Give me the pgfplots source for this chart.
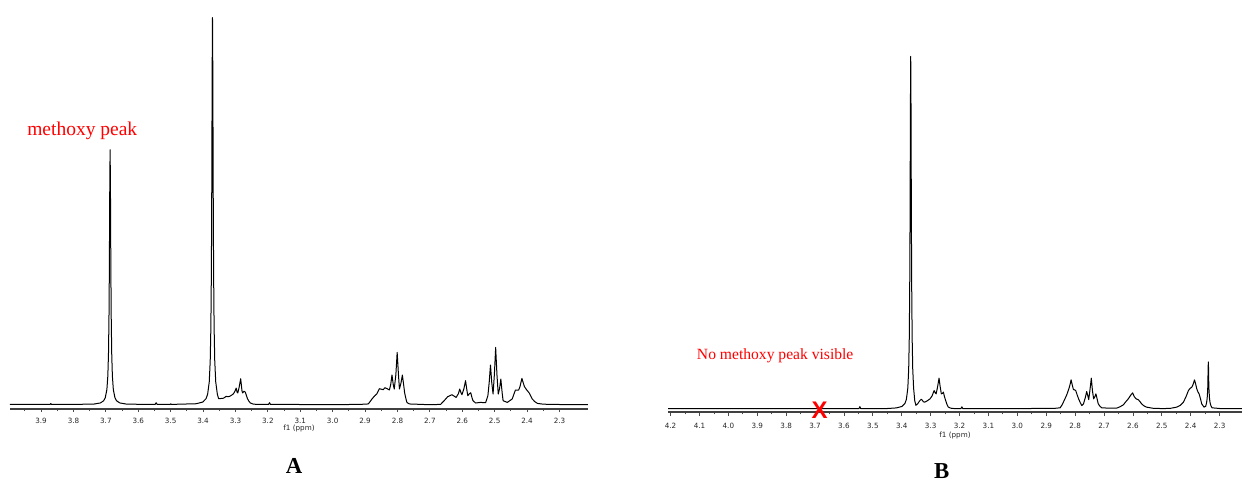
\documentclass[border=0pt]{standalone}
\usepackage{fontspec}
\setmainfont{Liberation Serif}
\newfontfamily\djv{DejaVu Sans}
\newfontfamily\lsans{Liberation Sans}
\usepackage{pgfplots}
\pgfplotsset{compat=1.18}
\newcommand\tickfnt{\djv\fontsize{3.6pt}{4.2pt}\selectfont}
\pgfplotsset{
  nmr/.style={
    scale only axis, anchor=south west,
    x dir=reverse,
    axis x line=bottom, axis y line=none,
    x axis line style={-, line width=0.7pt, black!75},
    xtick={2.3,2.4,2.5,2.6,2.7,2.8,2.9,3.0,3.1,3.2,3.3,3.4,3.5,3.6,3.7,3.8,3.9,4.0,4.1,4.2},
    minor x tick num=1,
    tick align=outside,
    major tick length=1.6pt, minor tick length=1pt,
    every tick/.style={black!70, line width=0.4pt},
    xticklabel={\pgfmathprintnumber[fixed,fixed zerofill,precision=1,assume math mode=true]{\tick}},
    xticklabel style={font=\tickfnt, text=black!85},
    xlabel={f1 (ppm)},
    xlabel style={font=\tickfnt, text=black!85, at={(axis description cs:0.5,0)}, anchor=center},
    clip=false,
  },
  spec/.style={black, line width=0.5pt, no markers, line join=round},
}
\begin{document}
\begin{tikzpicture}
\useasboundingbox (0,0) rectangle (621pt,241.5pt);
% ---------------- A ----------------
\begin{axis}[nmr, at={(5pt,37pt)}, width=289pt, height=198pt,
  xmin=2.212, xmax=3.996, ymin=-4.3, ymax=391.7,
  xticklabel style={yshift=0.6pt},
  xlabel style={yshift=-10pt}]
\addplot[spec] coordinates {
(3.996,0.3) (3.90,0.3) (3.872,0.3) (3.870,1.2) (3.868,0.3) (3.80,0.3) (3.737,0.64)
(3.717,1.76) (3.707,3.9) (3.702,6.9) (3.697,15) (3.694,28.8) (3.692,51)
(3.6905,86.1) (3.6895,127.5) (3.689,155.5) (3.688,219.8) (3.687,255)
(3.686,219.8) (3.685,155.5) (3.6845,127.5) (3.6835,86.1) (3.682,51)
(3.680,28.8) (3.677,15) (3.672,6.9) (3.667,3.9) (3.657,1.76) (3.637,0.64)
(3.58,0.3) (3.548,0.3) (3.545,2.0) (3.542,0.3) (3.502,0.3) (3.500,0.9) (3.498,0.3)
(3.421,0.97) (3.401,2.67) (3.391,5.95) (3.386,10.5) (3.381,22.8) (3.378,43.8)
(3.376,77.4) (3.3745,130.7) (3.3735,193.5) (3.373,236) (3.372,333.6) (3.371,387)
(3.370,333.6) (3.369,236) (3.3685,193.5) (3.3675,130.7) (3.366,77.4)
(3.364,43.8) (3.361,22.8) (3.356,10.5) (3.352,6) (3.345,6.2) (3.337,6.5)
(3.329,8.3) (3.323,8) (3.317,8.5) (3.310,10) (3.306,11) (3.301,14) (3.298,16.7)
(3.295,12.5) (3.293,11.7) (3.289,17) (3.284,26) (3.280,14) (3.278,11.7)
(3.274,13.5) (3.270,12.7) (3.266,9) (3.263,6) (3.258,3.2) (3.254,1.7)
(3.245,0.6) (3.233,0.3) (3.198,0.3) (3.195,2) (3.192,0.3) (3.10,0.2) (2.95,0.2)
(2.90,0.5) (2.890,0.8) (2.878,6) (2.870,9) (2.864,10.7) (2.856,16) (2.850,15.5)
(2.844,15) (2.839,17) (2.832,16) (2.825,14.7) (2.821,20) (2.817,29.7) (2.813,20)
(2.810,15.7) (2.805,30) (2.801,52.3) (2.797,30) (2.794,15.7) (2.789,22)
(2.785,29.7) (2.781,20) (2.778,12) (2.774,6) (2.771,2.3) (2.765,1) (2.760,0.7)
(2.70,0) (2.667,0.3) (2.658,3.3) (2.645,8) (2.632,10) (2.619,7.3) (2.612,11)
(2.608,15.7) (2.604,12) (2.601,10) (2.595,16) (2.590,24) (2.586,15) (2.583,9)
(2.578,11) (2.574,12) (2.570,7) (2.567,4) (2.559,1.7) (2.544,2.3) (2.528,2)
(2.521,9) (2.517,22) (2.513,39.7) (2.509,22) (2.505,10.7) (2.501,30) (2.497,57.3)
(2.493,30) (2.489,10.7) (2.485,16) (2.481,25.7) (2.477,12) (2.474,4) (2.461,2.3)
(2.446,5.7) (2.436,14.7) (2.426,14.7) (2.422,18) (2.416,26.3) (2.412,22)
(2.408,18) (2.401,14.7) (2.394,12) (2.384,5.7) (2.376,3) (2.368,1.3) (2.350,0.5)
(2.30,0.2) (2.212,0.1)
};
\node[text=red, font=\fontsize{9.75pt}{11pt}\selectfont] at (axis cs:3.773,273.7) {methoxy peak};
\end{axis}
% ---------------- B ----------------
\begin{axis}[nmr, at={(334pt,35.5pt)}, width=287pt, height=199.5pt,
  xmin=2.2225, xmax=4.209, ymin=-3.2, ymax=396.5,
  major tick length=2pt, minor tick length=1.2pt,
  xlabel style={yshift=-12pt}]
\addplot[spec] coordinates {
(4.209,0.2) (3.90,0.2) (3.60,0.2) (3.548,0.2) (3.545,2.2) (3.542,0.2) (3.45,0.3)
(3.419,0.88) (3.399,2.4) (3.389,5.4) (3.384,9.5) (3.379,20.8) (3.376,39.9)
(3.374,70.6) (3.3725,119.3) (3.3715,176.5) (3.371,215.2) (3.370,304.3) (3.369,353)
(3.368,304.3) (3.367,215.2) (3.3665,176.5) (3.3655,119.3) (3.364,70.6)
(3.362,39.9) (3.359,20.8) (3.355,8) (3.351,3.5) (3.345,5) (3.338,8) (3.333,9.5)
(3.330,9) (3.325,7) (3.320,6.7) (3.312,8) (3.302,10) (3.295,13) (3.288,18.3)
(3.284,16) (3.281,15) (3.276,22) (3.271,30.7) (3.267,22) (3.263,15) (3.259,15.5)
(3.256,16.7) (3.252,12) (3.248,8.3) (3.243,4) (3.239,1.7) (3.230,0.6) (3.22,0.3)
(3.195,0.3) (3.192,2) (3.189,0.3) (3.0,0.2) (2.87,0.5) (2.852,1) (2.845,4)
(2.838,8.3) (2.829,14) (2.821,20.7) (2.817,25) (2.814,29) (2.810,24) (2.806,19.3)
(2.802,19) (2.798,18.3) (2.793,14) (2.788,10) (2.782,6) (2.777,3.3) (2.771,5)
(2.765,11) (2.760,17.3) (2.756,13) (2.753,9.3) (2.749,18) (2.744,30.7) (2.740,18)
(2.736,10) (2.732,12) (2.728,15) (2.724,10) (2.720,5) (2.714,2.5) (2.708,1)
(2.68,0.6) (2.656,0.7) (2.645,2) (2.633,4) (2.625,7) (2.616,10) (2.608,13.5)
(2.601,16) (2.595,12) (2.589,10) (2.581,9) (2.575,7) (2.570,5) (2.562,3)
(2.553,1.7) (2.53,0.5) (2.495,0.2) (2.47,0.5) (2.448,1.7) (2.436,3.5) (2.425,6.7)
(2.415,13) (2.408,18.3) (2.402,20.5) (2.396,21.7) (2.391,25) (2.387,29) (2.383,25)
(2.379,20) (2.375,17) (2.371,15) (2.366,10) (2.362,5) (2.354,1.7) (2.348,2.5)
(2.345,6.3) (2.343,10.6) (2.3415,17.6) (2.3405,25) (2.340,38) (2.339,47)
(2.338,38) (2.3375,25) (2.3365,17.6) (2.335,10.6) (2.333,6) (2.330,3) (2.326,1)
(2.30,0.3) (2.2225,0.2)
};
\node[text=red, font=\fontsize{7.8pt}{9pt}\selectfont] at (axis cs:3.838,53.5) {No methoxy peak visible};
\node[text=red, font=\lsans\bfseries\fontsize{12pt}{13pt}\selectfont, inner sep=0pt] at (axis cs:3.684,-1) {X};
\end{axis}
\node[font=\bfseries\fontsize{11.4pt}{13pt}\selectfont] at (147pt,8.5pt) {A};
\node[font=\bfseries\fontsize{11.4pt}{13pt}\selectfont] at (470.85pt,6pt) {B};
\end{tikzpicture}
\end{document}
